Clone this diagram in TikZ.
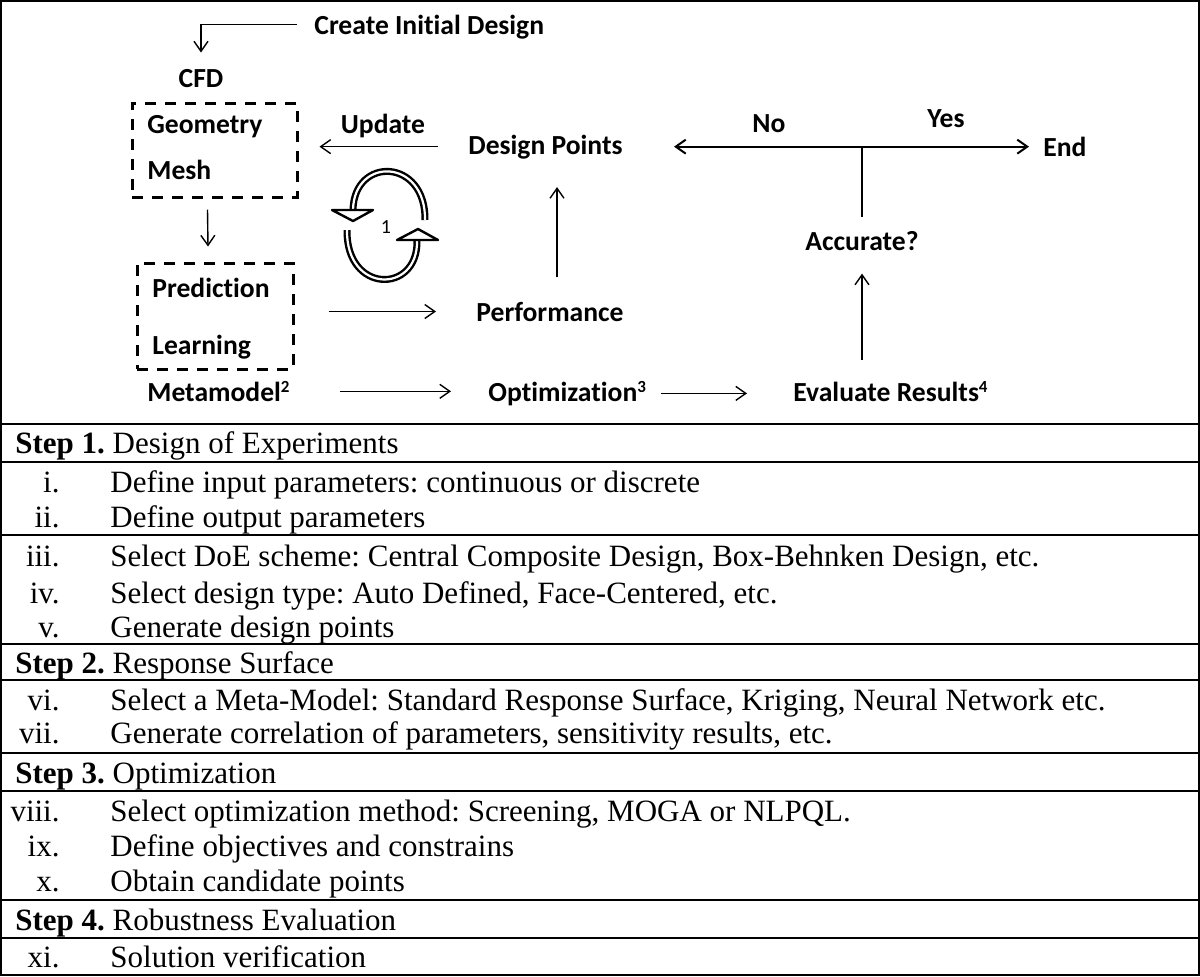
\documentclass[tikz,border=0pt]{standalone}
\usepackage{fontspec}
\setmainfont{Liberation Serif}
\newfontfamily\calibri[Ligatures={NoCommon,NoContextual,NoRare},Contextuals=NoAlternate]{Carlito}
\usetikzlibrary{arrows.meta}
\frenchspacing

\begin{document}
\begin{tikzpicture}[x=0.5pt,y=-0.5pt,>={Straight Barb[length=5pt,width=7pt]}]
				\tikzstyle{every node}=[inner sep=0pt]
				\tikzstyle{lbl}=[font=\calibri\bfseries\fontsize{13.8}{16}\selectfont]
				\tikzstyle{dbox}=[draw, line width=1.5pt, dash pattern=on 5.5pt off 4.5pt]
				\tikzstyle{arr}=[->, line width=0.7pt]
				\tikzstyle{ring}=[line width=1.2pt, double=white, double distance=1.1pt]
				\tikzstyle{item}=[anchor=base west, font=\fontsize{15.5}{18}\selectfont]
				\tikzstyle{num}=[anchor=base east, font=\fontsize{15.5}{18}\selectfont]
				\useasboundingbox (0,0) rectangle (1200,976);
				% flow chart
				\draw (314,34) node[lbl, anchor=base west] (init) {Create Initial Design};
				\draw (201,87) node[lbl, anchor=base] (cfd) {CFD};
				\draw (214.5,150) node[dbox, minimum width=82.5pt, minimum height=47pt] (geobox) {};
				\draw (147,133) node[lbl, anchor=base west] (geo) {Geometry};
				\draw (147,179) node[lbl, anchor=base west] (mesh) {Mesh};
				\draw (215,316) node[dbox, minimum width=78pt, minimum height=53pt] (predbox) {};
				\draw (152,297) node[lbl, anchor=base west] (pred) {Prediction};
				\draw (152,354) node[lbl, anchor=base west] (learn) {Learning};
				\draw (147,401) node[lbl, anchor=base west] (meta) {Metamodel\raisebox{4.2pt}{\fontsize{8.5}{9}\selectfont 2}};
				\draw (383,133) node[lbl, anchor=base] (upd) {Update};
				\draw (468,154) node[lbl, anchor=base west] (dp) {Design Points};
				\draw (476,321) node[lbl, anchor=base west] (perf) {Performance};
				\draw (488,401) node[lbl, anchor=base west] (opt) {Optimization\raisebox{4.2pt}{\fontsize{8.5}{9}\selectfont 3}};
				\draw (793,401) node[lbl, anchor=base west] (eval) {Evaluate Results\raisebox{4.2pt}{\fontsize{8.5}{9}\selectfont 4}};
				\draw (862,250) node[lbl, anchor=base] (acc) {Accurate?};
				\draw (769,132) node[lbl, anchor=base] (no) {No};
				\draw (946,127) node[lbl, anchor=base] (yes) {Yes};
				\draw (1043,156) node[lbl, anchor=base west] (endn) {End};
				\coordinate (up1) at ([xshift=3.5pt]perf.north);
				\draw[arr] ([xshift=-8.5pt,yshift=1pt]init.west) -| ([yshift=8pt]cfd.north);
				\draw[arr] ([xshift=-3.5pt,yshift=-5.5pt]geobox.south) -- ([xshift=-3.5pt,yshift=7.5pt]predbox.north);
				\draw[arr, shorten <=15pt, shorten >=10.5pt] (dp.west) -- (dp.west -| geobox.east);
				\draw[arr, shorten <=12pt, shorten >=14pt] (up1) -- (up1 |- dp.south);
				\draw[arr, shorten <=17pt, shorten >=20pt] (predbox.east |- perf.west) -- (perf.west);
				\draw[arr, shorten <=25pt, shorten >=18.5pt] (meta.east) -- (meta.east -| opt.west);
				\draw[arr, shorten <=7.5pt, shorten >=23pt] (opt.east) -- (opt.east -| eval.west);
				\draw[arr, shorten <=10.5pt, shorten >=11.5pt] (acc.south |- eval.north) -- (acc.south);
				\draw[line width=1pt, shorten <=7pt] (acc.north) -- (acc.north |- dp.east);
				\draw[<->, line width=1pt, shorten <=25.5pt, shorten >=7pt] (dp.east) -- (dp.east -| endn.west);
				% loop symbol
				\draw[ring] (425,220) .. controls (426,158) and (354,156) .. (353,210);
				\draw[ring] (347,230) .. controls (346,294) and (418,294) .. (417,241);
				\draw[line width=1.2pt, fill=white, line join=round] (332,210) -- (373,210) -- (353,221) -- cycle;
				\draw[line width=1.2pt, fill=white, line join=round] (397,240) -- (438,240) -- (418,229) -- cycle;
				\draw (386,227) node[font=\calibri\fontsize{10}{12}\selectfont] (one) {1};
				% table
				\draw[line width=1pt] (1,1) rectangle (1199,975);
				\foreach \y in {424,462,535,644,680,753,791,900,938}
					\draw[line width=0.9pt] (1,\y) -- (1199,\y);
				\draw (15,453) node[item] (s1) {\textbf{Step 1.} Design of Experiments};
				\draw (60,492) node[num] (n1) {i.};
				\draw (110,492) node[item] (r1) {Define input parameters: continuous or discrete};
				\draw (60,527) node[num] (n2) {ii.};
				\draw (110,527) node[item] (r2) {Define output parameters};
				\draw (60,566) node[num] (n3) {iii.};
				\draw (110,566) node[item] (r3) {Select DoE scheme: Central Composite Design, Box-Behnken Design, etc.};
				\draw (60,603) node[num] (n4) {iv.};
				\draw (110,603) node[item] (r4) {Select design type: Auto Defined, Face-Centered, etc.};
				\draw (60,637) node[num] (n5) {v.};
				\draw (110,637) node[item] (r5) {Generate design points};
				\draw (15,673) node[item] (s2) {\textbf{Step 2.} Response Surface};
				\draw (60,710) node[num] (n6) {vi.};
				\draw (110,710) node[item] (r6) {Select a Meta-Model: Standard Response Surface, Kriging, Neural Network etc.};
				\draw (60,743) node[num] (n7) {vii.};
				\draw (110,743) node[item] (r7) {Generate correlation of parameters, sensitivity results, etc.};
				\draw (15,783) node[item] (s3) {\textbf{Step 3.} Optimization};
				\draw (60,821) node[num] (n8) {viii.};
				\draw (110,821) node[item] (r8) {Select optimization method: Screening, MOGA or NLPQL.};
				\draw (60,856) node[num] (n9) {ix.};
				\draw (110,856) node[item] (r9) {Define objectives and constrains};
				\draw (60,891) node[num] (n10) {x.};
				\draw (110,891) node[item] (r10) {Obtain candidate points};
				\draw (15,930) node[item] (s4) {\textbf{Step 4.} Robustness Evaluation};
				\draw (60,967) node[num] (n11) {xi.};
				\draw (110,967) node[item] (r11) {Solution verification};
\end{tikzpicture}
\end{document}
